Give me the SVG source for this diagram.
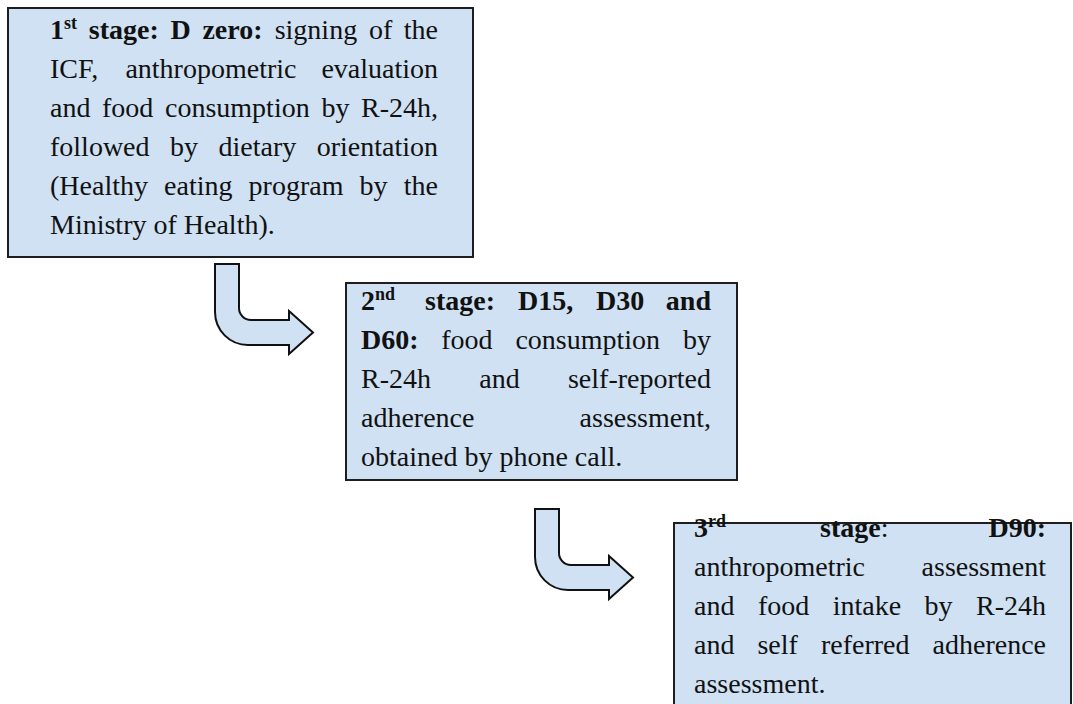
<svg xmlns="http://www.w3.org/2000/svg" width="1073" height="704" viewBox="0 0 1073 704">
<style>
.box{fill:#cfe1f3;stroke:#1e1e1e;stroke-width:2}
.arr{fill:#cfe1f3;stroke:#111;stroke-width:2;stroke-linejoin:miter}
text{font-family:"Liberation Serif","Times New Roman",serif;font-size:28px;fill:#111}
.b{font-weight:bold}
.sup{font-size:18px;font-weight:bold}
.e{text-anchor:end}
</style>
<defs>
<path id="bent" d="M0,0 H24 V44 A12,12 0 0 0 36,56 H74 V47 L98,68.5 L74,90 V81 H33 A33,33 0 0 1 0,48 Z"/>
</defs>
<rect width="1073" height="704" fill="#ffffff"/>
<g id="connectors">
<use href="#bent" class="arr" transform="translate(215,264)"/>
<use href="#bent" class="arr" transform="translate(535,509)"/>
</g>
<g id="stage1">
<rect class="box" x="8" y="8" width="465" height="249"/>
<text class="b" x="50" y="39">1</text><text class="sup" x="64" y="29">st</text>
<text class="b" x="88.8" y="39">stage:</text>
<text class="b" x="170.5" y="39">D</text>
<text class="b" x="202.4" y="39">zero:</text>
<text x="274.7" y="39">signing</text>
<text x="368.9" y="39">of</text>
<text class="e" x="438" y="39">the</text>
<text x="50" y="78">ICF,</text>
<text x="125.4" y="78">anthropometric</text>
<text class="e" x="438" y="78">evaluation</text>
<text x="50" y="117">and</text>
<text x="102" y="117">food</text>
<text x="165" y="117">consumption</text>
<text x="321.4" y="117">by</text>
<text class="e" x="438" y="117">R-24h,</text>
<text x="50" y="156">followed</text>
<text x="170" y="156">by</text>
<text x="218.5" y="156">dietary</text>
<text class="e" x="438" y="156">orientation</text>
<text x="50" y="195">(Healthy</text>
<text x="164.1" y="195">eating</text>
<text x="248.6" y="195">program</text>
<text x="359.6" y="195">by</text>
<text class="e" x="438" y="195">the</text>
<text x="50" y="234">Ministry of Health).</text>
</g>
<g id="stage2">
<rect class="box" x="346" y="283" width="391" height="197"/>
<text class="b" x="361" y="310">2</text><text class="sup" x="375" y="300">nd</text>
<text class="b" x="425" y="310">stage:</text>
<text class="b" x="518" y="310">D15,</text>
<text class="b" x="596" y="310">D30</text>
<text class="b e" x="711" y="310">and</text>
<text class="b" x="361" y="349">D60:</text>
<text x="441.3" y="349">food</text>
<text x="515.4" y="349">consumption</text>
<text class="e" x="711" y="349">by</text>
<text x="361" y="388">R-24h</text>
<text x="479.3" y="388">and</text>
<text class="e" x="711" y="388">self-reported</text>
<text x="361" y="427">adherence</text>
<text class="e" x="711" y="427">assessment,</text>
<text x="361" y="466">obtained by phone call.</text>
</g>
<g id="stage3">
<rect class="box" x="674" y="523" width="397" height="200"/>
<text class="b" x="694" y="537">3</text><text class="sup" x="708" y="527">rd</text>
<text x="820" y="537"><tspan class="b">stage</tspan>:</text>
<text class="b e" x="1046" y="537">D90:</text>
<text x="694" y="576">anthropometric</text>
<text class="e" x="1046" y="576">assessment</text>
<text x="694" y="615">and</text>
<text x="757.9" y="615">food</text>
<text x="832.7" y="615">intake</text>
<text x="924.6" y="615">by</text>
<text class="e" x="1046" y="615">R-24h</text>
<text x="694" y="654">and</text>
<text x="757.4" y="654">self</text>
<text x="820.9" y="654">referred</text>
<text class="e" x="1046" y="654">adherence</text>
<text x="694" y="693">assessment.</text>
</g>
</svg>
